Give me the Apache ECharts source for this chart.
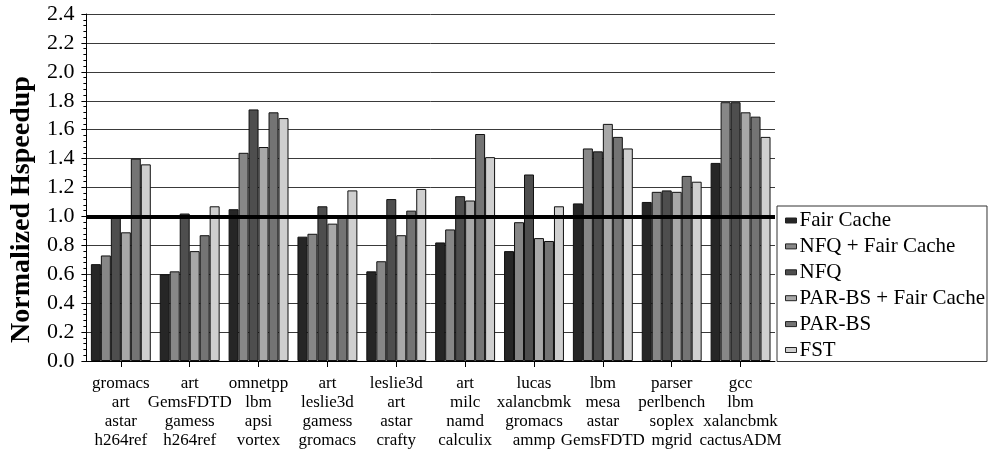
<!DOCTYPE html>
<html>
<head>
<meta charset="utf-8">
<script src="https://cdn.jsdelivr.net/npm/echarts@6/dist/echarts.min.js"></script>
<style>
  html, body { margin: 0; padding: 0; background: #fff; }
  #chart { width: 992px; height: 459px; }
</style>
</head>
<body>
<div id="chart"></div>
<script>
// Workload mixes (four benchmarks each)
const categories = [
  ['gromacs', 'art', 'astar', 'h264ref'],
  ['art', 'GemsFDTD', 'gamess', 'h264ref'],
  ['omnetpp', 'lbm', 'apsi', 'vortex'],
  ['art', 'leslie3d', 'gamess', 'gromacs'],
  ['leslie3d', 'art', 'astar', 'crafty'],
  ['art', 'milc', 'namd', 'calculix'],
  ['lucas', 'xalancbmk', 'gromacs', 'ammp'],
  ['lbm', 'mesa', 'astar', 'GemsFDTD'],
  ['parser', 'perlbench', 'soplex', 'mgrid'],
  ['gcc', 'lbm', 'xalancbmk', 'cactusADM']
];

const seriesNames = ['Fair Cache', 'NFQ + Fair Cache', 'NFQ', 'PAR-BS + Fair Cache', 'PAR-BS', 'FST'];

const fairCache      = [0.67, 0.60, 1.05, 0.86, 0.62, 0.82, 0.76, 1.09, 1.10, 1.37];
const nfqFairCache   = [0.73, 0.62, 1.44, 0.88, 0.69, 0.91, 0.96, 1.47, 1.17, 1.79];
const nfq            = [1.00, 1.02, 1.74, 1.07, 1.12, 1.14, 1.29, 1.45, 1.18, 1.79];
const parbsFairCache = [0.89, 0.76, 1.48, 0.95, 0.87, 1.11, 0.85, 1.64, 1.17, 1.72];
const parbs          = [1.40, 0.87, 1.72, 1.00, 1.04, 1.57, 0.83, 1.55, 1.28, 1.69];
const fst            = [1.36, 1.07, 1.68, 1.18, 1.19, 1.41, 1.07, 1.47, 1.24, 1.55];

const yTicks = { min: 0, max: 2.4, step: 0.2 };
const baseline = 1.0;

const seriesValues = [fairCache, nfqFairCache, nfq, parbsFairCache, parbs, fst];
const fills = ['#262626', '#878787', '#4e4e4e', '#a8a8a8', '#747474', '#cfcfcf'];
const serif = '"Liberation Serif", "Times New Roman", serif';

const chart = echarts.init(document.getElementById('chart'), null, { renderer: 'canvas' });

const barSeries = seriesNames.map((name, i) => ({
  name: name,
  type: 'bar',
  data: seriesValues[i],
  barGap: '0%',
  barCategoryGap: '13%',
  itemStyle: { color: fills[i], borderColor: '#111', borderWidth: 1 },
  emphasis: { disabled: true },
  z: 2
}));

// Reference level at 1.0, drawn over the bars
barSeries.push({
  name: 'baseline',
  type: 'line',
  data: [],
  z: 10,
  silent: true,
  markLine: {
    silent: true,
    symbol: 'none',
    label: { show: false },
    lineStyle: { color: '#000', width: 4, type: 'solid' },
    data: [{ yAxis: baseline }]
  }
});

chart.setOption({
  animation: false,
  backgroundColor: '#fff',
  grid: { left: 84, right: 217, top: 14, bottom: 98, containLabel: false },
  legend: {
    data: seriesNames,
    orient: 'vertical',
    left: 777,
    top: 206,
    padding: [4, 2, 1, 8],
    itemWidth: 11,
    itemHeight: 5,
    itemGap: 4.9,
    borderColor: '#333',
    borderWidth: 1,
    backgroundColor: '#fff',
    icon: 'rect',
    itemStyle: { borderColor: '#222', borderWidth: 1 },
    textStyle: { fontFamily: serif, fontSize: 21, color: '#000', lineHeight: 21, padding: [0, 0, 0, -2] }
  },
  xAxis: {
    type: 'category',
    data: categories.map(c => c.join('\n')),
    axisLine: { lineStyle: { color: '#000', width: 1 } },
    axisTick: { show: true, alignWithLabel: true, length: 6, lineStyle: { color: '#000' } },
    axisLabel: {
      interval: 0,
      fontFamily: serif,
      fontSize: 17,
      lineHeight: 19,
      color: '#000',
      margin: 13
    },
    splitLine: { show: false }
  },
  yAxis: {
    type: 'value',
    min: yTicks.min,
    max: yTicks.max,
    interval: yTicks.step,
    name: 'Normalized Hspeedup',
    nameLocation: 'middle',
    nameGap: 49,
    nameTextStyle: {
      fontFamily: serif,
      fontSize: 28,
      fontWeight: 'bold',
      color: '#000',
      padding: [0, 44, 0, 0]
    },
    axisLine: { show: true, lineStyle: { color: '#000', width: 1 } },
    axisTick: { show: true, length: 5, lineStyle: { color: '#000' } },
    minorTick: { show: true, splitNumber: 5, length: 3, lineStyle: { color: '#000' } },
    axisLabel: {
      fontFamily: serif,
      fontSize: 22,
      color: '#000',
      margin: 12,
      formatter: v => v.toFixed(1)
    },
    splitLine: { show: true, lineStyle: { color: '#3a3a3a', width: 1 } }
  },
  series: barSeries
});
</script>
</body>
</html>
